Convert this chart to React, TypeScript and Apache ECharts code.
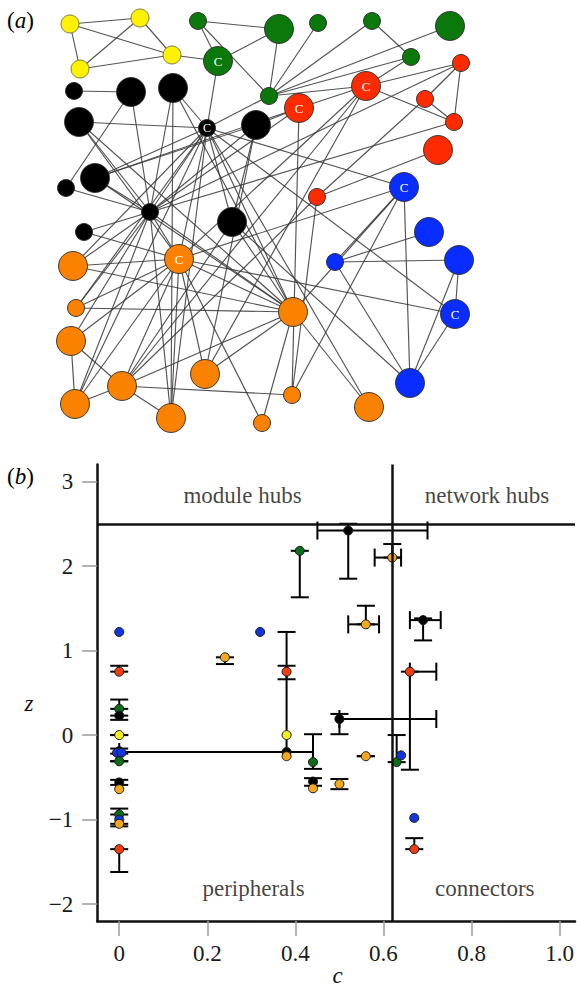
import { useEffect, useRef } from "react";
import * as echarts from "echarts";

// ---------------- Panel (a): network ----------------
const netColors: Record<string, string> = {
  yellow: "#fff200",
  green: "#0a780a",
  red: "#ff2b00",
  blue: "#0a2dff",
  black: "#000000",
  orange: "#fb8200",
};

const nodeIds = [
  "Y1", "Y2", "Y3", "Y4",
  "G1", "G2", "G3", "G4", "G5", "G6", "G7", "G8",
  "R1", "R2", "R3", "R4", "R5", "R6", "R7",
  "B1", "B2", "B3", "B4", "B5", "B6",
  "K1", "K2", "K3", "K4", "K5", "K6", "K7", "K8", "K9", "K10", "K11",
  "O1", "O2", "O3", "O4", "O5", "O6", "O7", "O8", "O9", "O10", "O11", "O12",
];
const nodeModule = [
  "yellow", "yellow", "yellow", "yellow",
  "green", "green", "green", "green", "green", "green", "green", "green",
  "red", "red", "red", "red", "red", "red", "red",
  "blue", "blue", "blue", "blue", "blue", "blue",
  "black", "black", "black", "black", "black", "black", "black", "black", "black", "black", "black",
  "orange", "orange", "orange", "orange", "orange", "orange", "orange", "orange", "orange", "orange", "orange", "orange",
];
const nodeX = [
  70, 140, 172, 80,
  198, 218, 279, 269, 318, 372, 450, 411,
  366, 299, 461, 425, 454, 438, 317,
  404, 429, 335, 459, 455, 410,
  74, 131, 173, 207, 79, 256, 95, 66, 150, 232, 84,
  179, 73, 76, 71, 122, 75, 171, 205, 262, 293, 292, 369,
];
const nodeY = [
  24, 18, 55, 69,
  21, 61, 29, 96, 23, 21, 26, 57,
  86, 108, 63, 99, 122, 150, 197,
  187, 232, 262, 260, 314, 383,
  91, 92, 88, 128, 122, 125, 178, 188, 212, 222, 232,
  259, 266, 308, 341, 386, 404, 418, 374, 423, 312, 395, 407,
];
const nodeLarge = [
  0, 0, 0, 0,
  0, 1, 1, 0, 0, 0, 1, 0,
  1, 1, 0, 0, 0, 1, 0,
  1, 1, 0, 1, 1, 1,
  0, 1, 1, 0, 1, 1, 1, 0, 0, 1, 0,
  1, 1, 0, 1, 1, 1, 1, 1, 0, 1, 0, 1,
];
const hubNodes = ["G2", "R1", "R2", "B1", "B5", "K4", "O1"];

const edges: [string, string][] = [
  ["Y1", "Y2"], ["Y1", "Y4"], ["Y1", "Y3"], ["Y2", "Y4"], ["Y2", "Y3"], ["Y4", "Y3"], ["Y3", "G2"],
  ["G1", "G3"], ["G1", "G2"], ["G1", "G4"], ["G2", "G3"], ["G3", "G4"], ["G2", "K4"], ["G4", "K4"],
  ["G4", "G5"], ["G4", "G6"], ["G4", "G7"], ["G4", "G8"], ["G6", "G8"], ["G4", "R1"],
  ["R1", "G8"], ["R1", "R3"], ["R1", "R5"], ["R3", "R4"], ["R3", "R5"], ["R4", "R5"], ["R1", "R2"],
  ["R2", "K6"], ["R2", "O11"], ["R4", "R7"], ["R6", "R7"], ["R3", "K9"], ["R5", "K9"], ["R1", "O1"],
  ["R1", "O5"], ["R1", "O8"], ["R7", "O11"], ["R7", "O5"], ["R2", "K9"],
  ["B1", "B6"], ["B1", "B3"], ["B3", "B2"], ["B3", "B4"], ["B3", "B6"], ["B4", "B6"], ["B5", "B6"],
  ["B4", "B5"], ["K4", "B1"], ["K4", "B5"], ["O1", "B5"], ["K10", "B6"], ["B1", "O11"], ["B1", "O10"],
  ["O1", "B1"],
  ["O1", "O2"], ["O1", "O3"], ["O1", "O4"], ["O1", "O5"], ["O1", "O6"], ["O1", "O7"], ["O1", "O8"],
  ["O1", "O9"], ["O1", "O10"], ["O1", "K9"], ["O1", "K11"], ["O2", "O10"], ["O2", "K9"], ["O3", "O10"],
  ["O3", "K9"], ["O4", "O6"], ["O4", "O5"], ["O4", "K9"], ["O5", "O6"], ["O5", "O7"], ["O5", "O10"],
  ["O5", "O11"], ["O5", "K10"], ["O6", "K9"], ["O6", "K4"], ["O7", "K9"], ["O8", "O10"], ["O8", "K6"],
  ["O9", "O10"], ["O10", "K4"], ["O10", "K9"], ["O10", "K5"], ["O10", "K7"], ["O12", "O10"], ["O10", "K3"],
  ["K1", "K2"], ["K2", "K9"], ["K2", "K8"], ["K3", "K4"], ["K3", "K9"], ["K4", "K5"], ["K4", "K7"],
  ["K4", "K9"], ["K4", "K10"], ["K5", "K9"], ["K5", "O1"], ["K7", "K9"], ["K7", "K6"], ["K8", "K9"],
  ["K6", "K10"], ["K9", "K11"], ["K9", "K6"], ["K4", "O2"], ["K4", "O3"], ["K4", "O1"], ["K4", "O12"],
  ["K3", "O7"], ["K7", "R2"], ["K10", "O10"], ["O7", "K4"],
];

// ---------------- Panel (b): participation coefficient vs within-module degree ----------------
const ptColors: Record<string, string> = {
  yellow: "#f6ee1c",
  green: "#0d6c18",
  red: "#f23c10",
  blue: "#1236dc",
  black: "#000000",
  orange: "#f5a81c",
};

const pointModule = [
  "blue", "red", "green", "black", "yellow", "black", "blue", "blue", "green", "black",
  "orange", "green", "blue", "orange", "red",
  "orange", "blue", "red", "yellow", "black", "orange",
  "green", "black", "orange", "orange", "black", "orange",
  "green", "blue", "red", "black", "orange", "orange", "black", "green", "blue", "red",
];
const pointC = [
  0, 0, 0, 0, 0, 0, -0.005, 0.005, 0, 0,
  0, 0, 0, 0, 0,
  0.24, 0.32, 0.38, 0.38, 0.38, 0.38,
  0.44, 0.44, 0.44, 0.5, 0.5, 0.56,
  0.63, 0.64, 0.66, 0.69, 0.56, 0.62, 0.52, 0.41, 0.67, 0.67,
];
const pointZ = [
  1.22, 0.75, 0.31, 0.23, 0.0, -0.19, -0.21, -0.21, -0.31, -0.56,
  -0.64, -0.94, -1.0, -1.05, -1.35,
  0.92, 1.22, 0.75, 0.0, -0.2, -0.25,
  -0.32, -0.55, -0.63, -0.58, 0.19, -0.25,
  -0.32, -0.24, 0.75, 1.36, 1.31, 2.1, 2.42, 2.18, -0.98, -1.35,
];
const zLow: (number | null)[] = [
  null, 0.75, 0.31, 0.18, 0.0, -0.22, null, null, -0.31, -0.59,
  null, -0.94, null, -1.08, -1.62,
  0.84, null, 0.66, null, -0.2, null,
  -0.4, -0.6, null, -0.64, 0.01, -0.25,
  -0.32, null, -0.41, 1.12, 1.31, 2.1, 1.85, 1.63, null, -1.35,
];
const zHigh: (number | null)[] = [
  null, 0.82, 0.42, 0.23, 0.0, -0.16, null, null, -0.31, -0.53,
  null, -0.87, null, -1.05, -1.35,
  0.92, null, 0.82, null, 1.22, null,
  0.01, -0.51, null, -0.52, 0.25, -0.25,
  0.0, null, 0.75, 1.38, 1.53, 2.26, 2.5, 2.18, null, -1.22,
];
const cLow: (number | null)[] = [
  null, null, null, null, null, null, null, null, null, null,
  null, null, null, null, null,
  null, null, null, null, 0.0, null,
  null, null, null, null, 0.5, null,
  null, null, 0.66, 0.66, 0.52, 0.58, 0.45, null, null, null,
];
const cHigh: (number | null)[] = [
  null, null, null, null, null, null, null, null, null, null,
  null, null, null, null, null,
  null, null, null, null, 0.44, null,
  null, null, null, null, 0.72, null,
  null, null, 0.72, 0.73, 0.59, 0.64, 0.7, null, null, null,
];

const cTicks = [0, 0.2, 0.4, 0.6, 0.8, 1.0];
const zTicks = [-2, -1, 0, 1, 2, 3];
const zHubThreshold = 2.5;
const cConnectorThreshold = 0.62;
const regionNames = ["module hubs", "network hubs", "peripherals", "connectors"];
const regionC = [0.28, 0.835, 0.305, 0.83];
const regionZ = [2.84, 2.84, -1.81, -1.82];

const SERIF = "Times New Roman, Tinos, Nimbus Roman, DejaVu Serif";
const FS = 23;

export default function App() {
  const ref = useRef<HTMLDivElement>(null);

  useEffect(() => {
    if (!ref.current) return;
    const chart = echarts.init(ref.current, null, { renderer: "svg" });

    const nodeData = nodeIds.map((id, i) => ({
      name: id,
      value: [nodeX[i], nodeY[i]],
      symbolSize: nodeLarge[i] ? 29 : nodeModule[i] === "yellow" ? 18 : 17,
      itemStyle: {
        color: netColors[nodeModule[i]],
        borderColor: nodeModule[i] === "yellow" ? "#6d6d40" : "#2a2a2a",
        borderWidth: 0.9,
      },
      label: {
        show: hubNodes.includes(id),
        formatter: "C",
        position: "inside",
        color: "#ffffff",
        fontFamily: SERIF,
        fontSize: nodeLarge[i] ? 13 : 12,
      },
    }));

    const barData = pointC.map((c, i) => {
      const z = pointZ[i];
      const hv = zLow[i] !== null || zHigh[i] !== null ? 1 : 0;
      const hh = cLow[i] !== null || cHigh[i] !== null ? 1 : 0;
      return [
        c, z,
        zLow[i] ?? z, zHigh[i] ?? z, hv,
        cLow[i] ?? c, cHigh[i] ?? c, hh,
      ];
    });

    const cap = 9;
    const barStyle = { stroke: "#000", lineWidth: 2 };

    chart.setOption({
      animation: false,
      textStyle: { fontFamily: SERIF },
      grid: [
        { left: 0, top: 0, width: 577, height: 440 },
        { left: 97.2, top: 464.6, width: 479.8, height: 456.4 },
      ],
      xAxis: [
        { gridIndex: 0, type: "value", min: 0, max: 577, show: false },
        {
          gridIndex: 1,
          type: "value",
          min: -0.05,
          max: 1.035,
          splitLine: { show: false },
          axisLine: { show: true, onZero: false, lineStyle: { color: "#111", width: 2.5 } },
          axisTick: {
            show: true,
            customValues: cTicks,
            length: 15,
            lineStyle: { color: "#9a9a9a", width: 1.5 },
          },
          axisLabel: {
            customValues: cTicks,
            margin: 21,
            fontFamily: SERIF,
            fontSize: FS,
            color: "#1a1a1a",
            formatter: (v: number) => (v === 0 ? "0" : v.toFixed(1)),
          },
        },
      ],
      yAxis: [
        { gridIndex: 0, type: "value", min: 0, max: 440, inverse: true, show: false },
        {
          gridIndex: 1,
          type: "value",
          min: -2.2,
          max: 3.2,
          splitLine: { show: false },
          axisLine: { show: true, onZero: false, lineStyle: { color: "#111", width: 2.5 } },
          axisTick: {
            show: true,
            customValues: zTicks,
            length: 15,
            lineStyle: { color: "#9a9a9a", width: 1.5 },
          },
          axisLabel: {
            customValues: zTicks,
            margin: 24,
            fontFamily: SERIF,
            fontSize: FS,
            color: "#1a1a1a",
            formatter: (v: number) => (v < 0 ? "\u2212" + Math.abs(v) : String(v)),
          },
        },
      ],
      series: [
        {
          type: "graph",
          coordinateSystem: "cartesian2d",
          xAxisIndex: 0,
          yAxisIndex: 0,
          layout: "none",
          silent: true,
          data: nodeData,
          links: edges.map(([s, t]) => ({ source: s, target: t })),
          lineStyle: { color: "#363636", width: 1.15, opacity: 0.85, curveness: 0 },
          emphasis: { disabled: true },
        },
        {
          type: "custom",
          xAxisIndex: 1,
          yAxisIndex: 1,
          silent: true,
          z: 2,
          encode: { x: 0, y: 1 },
          data: barData,
          renderItem: (_params: any, api: any) => {
            const c = api.value(0);
            const z = api.value(1);
            const p = api.coord([c, z]);
            const children: any[] = [];
            if (api.value(4)) {
              const a = api.coord([c, api.value(2)]);
              const b = api.coord([c, api.value(3)]);
              children.push({ type: "line", shape: { x1: p[0], y1: a[1], x2: p[0], y2: b[1] }, style: barStyle });
              children.push({ type: "line", shape: { x1: p[0] - cap, y1: a[1], x2: p[0] + cap, y2: a[1] }, style: barStyle });
              children.push({ type: "line", shape: { x1: p[0] - cap, y1: b[1], x2: p[0] + cap, y2: b[1] }, style: barStyle });
            }
            if (api.value(7)) {
              const a = api.coord([api.value(5), z]);
              const b = api.coord([api.value(6), z]);
              children.push({ type: "line", shape: { x1: a[0], y1: p[1], x2: b[0], y2: p[1] }, style: barStyle });
              children.push({ type: "line", shape: { x1: a[0], y1: p[1] - cap, x2: a[0], y2: p[1] + cap }, style: barStyle });
              children.push({ type: "line", shape: { x1: b[0], y1: p[1] - cap, x2: b[0], y2: p[1] + cap }, style: barStyle });
            }
            return { type: "group", children };
          },
          markLine: {
            silent: true,
            symbol: ["none", "none"],
            label: { show: false },
            lineStyle: { color: "#111", width: 2.5, type: "solid" },
            data: [{ yAxis: zHubThreshold }, { xAxis: cConnectorThreshold }],
          },
        },
        {
          type: "scatter",
          xAxisIndex: 1,
          yAxisIndex: 1,
          silent: true,
          z: 3,
          symbolSize: 9,
          data: pointC.map((c, i) => ({
            value: [c, pointZ[i]],
            itemStyle: {
              color: ptColors[pointModule[i]],
              borderColor: "#1a1a1a",
              borderWidth: 1,
              opacity: 1,
            },
          })),
        },
        {
          type: "scatter",
          xAxisIndex: 1,
          yAxisIndex: 1,
          silent: true,
          z: 4,
          symbolSize: 1,
          itemStyle: { color: "rgba(0,0,0,0)" },
          label: {
            show: true,
            position: "inside",
            formatter: "{b}",
            fontFamily: SERIF,
            fontSize: FS,
            color: "#111",
          },
          data: regionNames.map((n, i) => ({ name: n, value: [regionC[i], regionZ[i]] })),
        },
      ],
      graphic: [
        {
          type: "text",
          x: 7,
          y: 9,
          style: {
            text: "{n|(}{i|a}{n|)}",
            rich: {
              n: { fontFamily: SERIF, fontSize: FS, color: "#111" },
              i: { fontFamily: SERIF, fontSize: FS, fontStyle: "italic", color: "#111" },
            },
          },
        },
        {
          type: "text",
          x: 7,
          y: 465,
          style: {
            text: "{n|(}{i|b}{n|)}",
            rich: {
              n: { fontFamily: SERIF, fontSize: FS, color: "#111" },
              i: { fontFamily: SERIF, fontSize: FS, fontStyle: "italic", color: "#111" },
            },
          },
        },
        {
          type: "text",
          x: 29,
          y: 703,
          style: {
            text: "z",
            fontFamily: SERIF,
            fontSize: FS,
            fontStyle: "italic",
            fill: "#111",
            align: "center",
            verticalAlign: "middle",
          },
        },
        {
          type: "text",
          x: 337.5,
          y: 975,
          style: {
            text: "c",
            fontFamily: SERIF,
            fontSize: FS,
            fontStyle: "italic",
            fill: "#111",
            align: "center",
            verticalAlign: "middle",
          },
        },
      ],
    });

    return () => chart.dispose();
  }, []);

  return (
    <div
      ref={ref}
      style={{ position: "fixed", left: 0, top: 0, width: "577px", height: "988px", background: "#fff" }}
    />
  );
}
